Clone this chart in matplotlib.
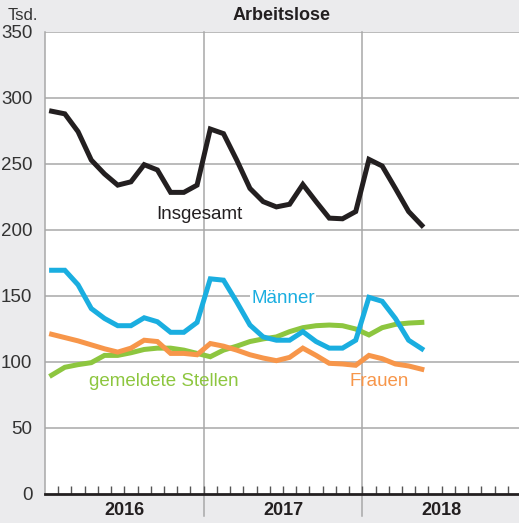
import numpy as np
import matplotlib.pyplot as plt

plt.rcParams['font.family'] = ['Liberation Sans', 'DejaVu Sans']

# monthly values, Jan 2016 .. May 2018 (thousands)
insgesamt = [290, 288, 274.5, 253, 242.5, 234, 236.5, 249.5, 245.5, 228.5, 228.5, 234,
             276.5, 273, 253, 231.5, 221.5, 217.5, 219.5, 234.5, 221.5, 209, 208.5, 214,
             253.5, 248.5, 231.5, 214, 203.5]
maenner = [169.5, 169.5, 158.5, 140.5, 133, 127.5, 127.5, 133.5, 130.5, 122.5, 122.5, 130,
           163, 162, 145.5, 128, 119, 116.5, 116.5, 123, 115.5, 110.5, 110.5, 116.5,
           149, 146, 133, 116.5, 110]
frauen = [121, 118.5, 116, 113, 110, 107.5, 110.5, 116.5, 115.5, 106.5, 106.5, 105.5,
          114, 112, 109, 105.5, 103, 101, 103.5, 110.5, 105, 99, 98.5, 97.5,
          105, 102.5, 98.5, 97, 94.5]
stellen = [90, 96, 98, 99.5, 105, 105, 107, 109.5, 110.5, 110.5, 109, 106.5,
           104, 109, 112, 115.5, 117.5, 119, 123, 126, 127.5, 128, 127.5, 125,
           120.5, 126, 128.5, 129.5, 130]
years = ['2016', '2017', '2018']

bg = '#ebebed'
grid_col = '#a8a8a8'

fig = plt.figure(figsize=(5.19, 5.23), dpi=100, facecolor=bg)
ax = fig.add_axes([45 / 519, 29 / 523, 1 - 45 / 519 + 2 / 519, 462 / 523])
ax.set_facecolor('white')

x = np.arange(len(insgesamt)) + 0.5
ax.set_xlim(0, 36)
ax.set_ylim(0, 350)

for v in range(50, 351, 50):
    ax.axhline(v, color=grid_col, lw=1.1, zorder=1)
for b in (12, 24):
    ax.plot([b, b], [-0.047, 1], transform=ax.get_xaxis_transform(),
            color=grid_col, lw=1.1, zorder=1, clip_on=False)

lw = 3.6
ax.plot(x, stellen, color='#8dc63f', lw=lw, zorder=3, solid_joinstyle='miter')
ax.plot(x, frauen, color='#f7964a', lw=lw, zorder=3, solid_joinstyle='miter')
ax.plot(x, maenner, color='#1aaee0', lw=lw, zorder=4, solid_joinstyle='miter')
ax.plot(x, insgesamt, color='#231f20', lw=lw, zorder=5, solid_joinstyle='miter')

fs = 13.5
ax.text(8.4, 212, 'Insgesamt', color='#231f20', fontsize=fs, ha='left', va='center', zorder=6)
ax.text(15.6, 148, 'Männer', color='#1aaee0', fontsize=fs, ha='left', va='center', zorder=6,
        bbox=dict(facecolor='white', edgecolor='none', pad=1))
ax.text(3.3, 85, 'gemeldete Stellen', color='#8dc63f', fontsize=fs, ha='left', va='center', zorder=6)
ax.text(23.0, 85, 'Frauen', color='#f7964a', fontsize=fs, ha='left', va='center', zorder=6)

for s in ('top', 'right'):
    ax.spines[s].set_visible(False)
ax.spines['left'].set_color(grid_col)
ax.spines['left'].set_linewidth(1.1)
ax.spines['bottom'].set_color('#231f20')
ax.spines['bottom'].set_linewidth(2)

ax.set_yticks(range(0, 351, 50))
ax.tick_params(axis='y', length=0, labelsize=fs, labelcolor='#333333', pad=9)
ax.set_xticks(range(1, 36))
ax.set_xticklabels([])
ax.tick_params(axis='x', direction='in', length=6, width=1, color='#555555')

for i, yr in enumerate(years):
    ax.text(6 + 12 * i, -0.035, yr, transform=ax.get_xaxis_transform(),
            ha='center', va='center', fontsize=fs - 0.5, fontweight='bold', color='#231f20')

fig.text(282 / 519, 1 - 15 / 523, 'Arbeitslose', ha='center', va='center',
         fontsize=fs - 0.5, fontweight='bold', color='#231f20')
fig.text(8 / 519, 1 - 15 / 523, 'Tsd.', ha='left', va='center',
         fontsize=fs - 1.5, color='#333333')

fig.savefig('out.png', dpi=100, facecolor=bg)
